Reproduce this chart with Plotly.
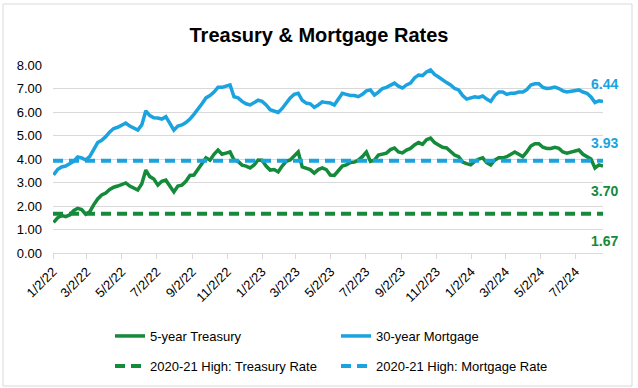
import pandas as pd
import plotly.graph_objects as go

# ---- data (weekly readings, Monday dates starting 2022-01-03) ----
start_date = "2022-01-03"

mortgage_30y = [
    # 2022
    3.32, 3.55, 3.66, 3.70, 3.80,
    3.90, 4.09, 4.05, 3.96,
    4.10, 4.40, 4.70, 4.80,
    4.95, 5.15, 5.30, 5.35,
    5.45, 5.53, 5.40, 5.30, 5.23,
    5.45, 6.05, 5.85, 5.75,
    5.74, 5.70, 5.80, 5.50,
    5.23, 5.40, 5.45, 5.55, 5.70,
    5.90, 6.10, 6.35, 6.60,
    6.70, 6.85, 7.05, 7.05, 7.10,
    7.15, 6.65, 6.60, 6.45,
    6.35, 6.30, 6.40, 6.50,
    # 2023
    6.45, 6.30, 6.10, 6.05, 5.98,
    6.15, 6.40, 6.60, 6.75,
    6.80, 6.50, 6.38, 6.35,
    6.20, 6.30, 6.43, 6.40,
    6.38, 6.30, 6.55, 6.80, 6.75,
    6.70, 6.70, 6.65, 6.75,
    6.90, 6.94, 6.72, 6.85, 7.00,
    7.05, 7.15, 7.23, 7.10,
    7.02, 7.15, 7.23, 7.45,
    7.57, 7.55, 7.70, 7.79, 7.60,
    7.49, 7.35, 7.25, 7.15,
    7.00, 6.94, 6.70, 6.55,
    # 2024
    6.60, 6.65, 6.62, 6.68, 6.55,
    6.45, 6.70, 6.85, 6.85,
    6.75, 6.80, 6.80, 6.85,
    6.85, 6.95, 7.15, 7.20, 7.20,
    7.05, 7.00, 7.02, 7.06,
    7.00, 6.90, 6.85, 6.88,
    6.92, 6.94, 6.85, 6.80, 6.64,
    6.40, 6.48, 6.44,
]

treasury_5y = [
    # 2022
    1.30, 1.50, 1.60, 1.55, 1.62,
    1.80, 1.90, 1.85, 1.65,
    1.75, 2.05, 2.30, 2.47,
    2.55, 2.70, 2.80, 2.85,
    2.90, 2.98, 2.85, 2.75, 2.68,
    2.95, 3.53, 3.25, 3.15,
    2.89, 3.05, 3.10, 2.85,
    2.60, 2.85, 2.89, 3.05, 3.30,
    3.32, 3.55, 3.80, 4.05,
    3.95, 4.20, 4.38, 4.20, 4.25,
    4.30, 3.96, 3.90, 3.74,
    3.70, 3.62, 3.75, 3.96,
    # 2023
    3.95, 3.70, 3.53, 3.55, 3.45,
    3.70, 3.90, 3.96, 4.15,
    4.30, 3.66, 3.60, 3.55,
    3.40, 3.55, 3.62, 3.55,
    3.32, 3.30, 3.50, 3.70, 3.75,
    3.85, 3.87, 3.95, 4.10,
    4.30, 3.90, 3.95, 4.17, 4.20,
    4.25, 4.40, 4.47, 4.30,
    4.26, 4.38, 4.45, 4.60,
    4.70, 4.62, 4.82, 4.89, 4.70,
    4.60, 4.50, 4.47, 4.30,
    4.17, 4.10, 3.87, 3.80,
    # 2024
    3.75, 3.90, 4.00, 4.05, 3.85,
    3.75, 3.95, 4.05, 4.05,
    4.10, 4.20, 4.30, 4.20,
    4.10, 4.30, 4.55, 4.65, 4.65,
    4.50, 4.45, 4.45, 4.50,
    4.45, 4.30, 4.25, 4.30,
    4.35, 4.38, 4.20, 4.10, 4.00,
    3.62, 3.75, 3.70,
]

treasury_high = 1.67
mortgage_high = 3.93

tick_dates = ["2022-01-02", "2022-03-02", "2022-05-02", "2022-07-02", "2022-09-02",
              "2022-11-02", "2023-01-02", "2023-03-02", "2023-05-02", "2023-07-02",
              "2023-09-02", "2023-11-02", "2024-01-02", "2024-03-02", "2024-05-02",
              "2024-07-02"]
tick_labels = ["1/2/22", "3/2/22", "5/2/22", "7/2/22", "9/2/22", "11/2/22",
               "1/2/23", "3/2/23", "5/2/23", "7/2/23", "9/2/23", "11/2/23",
               "1/2/24", "3/2/24", "5/2/24", "7/2/24"]

assert len(mortgage_30y) == len(treasury_5y)
dates = pd.date_range(start_date, periods=len(mortgage_30y), freq="7D")

GREEN = "#148a3a"
BLUE = "#1ba3e0"
FONT = "Liberation Sans, Arial, sans-serif"

x_start = pd.Timestamp("2022-01-02")
x_end = dates[-1]

fig = go.Figure()
fig.add_trace(go.Scatter(x=dates, y=treasury_5y, mode="lines", name="5-year Treasury",
                         line=dict(color=GREEN, width=3.5), legend="legend"))
fig.add_trace(go.Scatter(x=dates, y=mortgage_30y, mode="lines", name="30-year Mortgage",
                         line=dict(color=BLUE, width=3.5), legend="legend"))
fig.add_trace(go.Scatter(x=[x_start, x_end], y=[treasury_high, treasury_high], mode="lines",
                         name="2020-21 High: Treasury Rate",
                         line=dict(color=GREEN, width=4, dash="10px,6px"), legend="legend2"))
fig.add_trace(go.Scatter(x=[x_start, x_end], y=[mortgage_high, mortgage_high], mode="lines",
                         name="2020-21 High: Mortgage Rate",
                         line=dict(color=BLUE, width=4, dash="10px,6px"), legend="legend2"))

# end-value labels
labels = [
    (f"{mortgage_30y[-1]:.2f}", 7.19, BLUE),
    (f"{mortgage_high:.2f}", 4.70, BLUE),
    (f"{treasury_5y[-1]:.2f}", 2.64, GREEN),
    (f"{treasury_high:.2f}", 0.53, GREEN),
]
for txt, yv, col in labels:
    fig.add_annotation(x=(604 - 53) / 550, xref="paper", y=yv, yref="y", text=f"<b>{txt}</b>",
                       showarrow=False, xanchor="center", yanchor="middle",
                       font=dict(family=FONT, size=14, color=col))

# outer chart border
fig.add_shape(type="rect", xref="paper", yref="paper",
              x0=(3 - 53) / 550, x1=(632 - 53) / 550,
              y0=(253 - 386) / 188, y1=(253 - 4) / 188,
              line=dict(color="#d9d9d9", width=1), fillcolor="rgba(0,0,0,0)", layer="below")

legend_common = dict(orientation="h", xanchor="left", yanchor="middle",
                     xref="container", yref="container",
                     entrywidth=181, entrywidthmode="pixels",
                     font=dict(family=FONT, size=13, color="#000000"),
                     bgcolor="rgba(0,0,0,0)")

fig.update_layout(
    width=638, height=388,
    margin=dict(l=53, r=35, t=65, b=135, autoexpand=False),
    paper_bgcolor="white", plot_bgcolor="white",
    font=dict(family=FONT, size=13, color="#000000"),
    title=dict(text="<b>Treasury & Mortgage Rates</b>", x=0.5, xanchor="center",
               y=1 - 35 / 388, yanchor="middle", yref="container", automargin=False,
               font=dict(family=FONT, size=20, color="#000000")),
    showlegend=True,
    legend=dict(x=110 / 638, y=1 - 336 / 388, **legend_common),
    legend2=dict(x=110 / 638, y=1 - 366 / 388, **legend_common),
    xaxis=dict(type="date", range=[x_start, x_end], tickvals=tick_dates, ticktext=tick_labels,
               tickangle=-45, ticks="outside", ticklen=5, tickcolor="#d9d9d9",
               showline=True, linecolor="#d9d9d9", linewidth=1, showgrid=False,
               zeroline=False, automargin=False,
               tickfont=dict(family=FONT, size=13, color="#000000")),
    yaxis=dict(range=[0, 8], dtick=1, tickformat=".2f", showgrid=True, gridcolor="#d9d9d9",
               gridwidth=1, zeroline=False, showline=False, ticks="",
               ticklabelstandoff=10, automargin=False,
               tickfont=dict(family=FONT, size=13, color="#000000")),
)

fig.write_html("out.html", config={"displayModeBar": False},
               post_script="document.body.style.margin='0';document.body.style.overflow='hidden';")
